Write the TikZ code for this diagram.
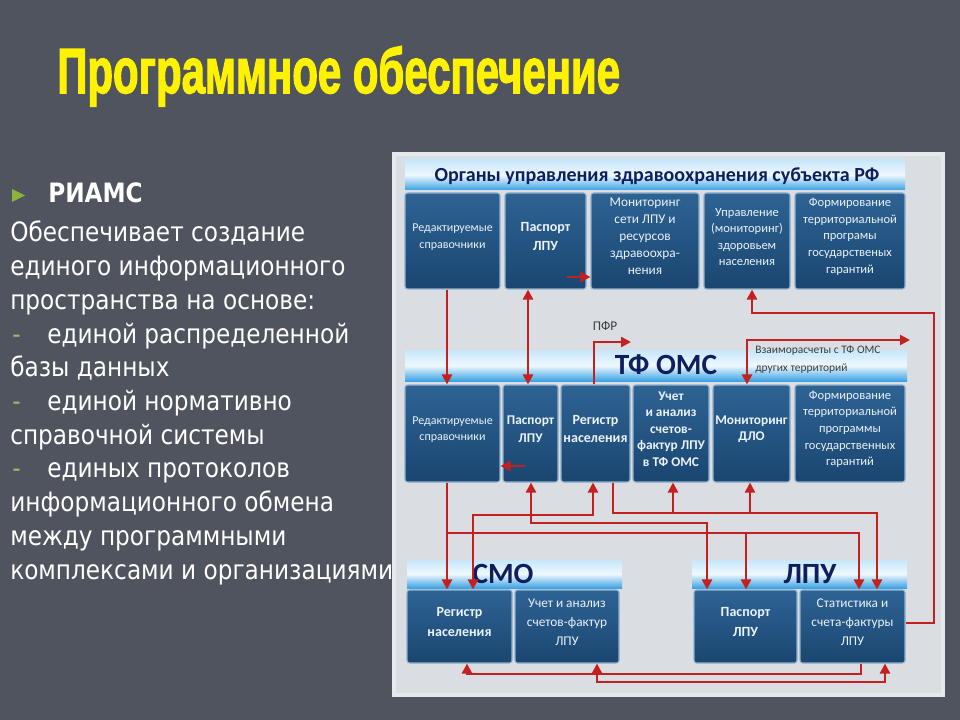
\documentclass[tikz,border=0pt]{standalone}
\usepackage{fontspec}
\usepackage{graphicx}
\setmainfont{DejaVu Sans}
\newfontfamily\leftfont[FakeStretch=0.87]{DejaVu Sans}
\newfontfamily\titlefont[BoldFeatures={FakeBold=2.5}]{Liberation Sans}
\newfontfamily\boxfont{Carlito}
\usetikzlibrary{fit,arrows.meta}
\definecolor{slidebg}{HTML}{50545F}
\definecolor{panel}{HTML}{DADDE1}
\definecolor{panelframe}{HTML}{E6E9EC}
\definecolor{boxtop}{HTML}{2E6394}
\definecolor{boxbot}{HTML}{1A4670}
\definecolor{boxedge}{HTML}{8FB0CC}
\definecolor{bartop}{HTML}{C6E7F9}
\definecolor{barmid}{HTML}{EEF8FE}
\definecolor{barbot}{HTML}{3BA3E3}
\definecolor{navy}{HTML}{0F1F5E}
\definecolor{arrred}{HTML}{C4201F}
\definecolor{bulletc}{HTML}{8CB33C}
\definecolor{dashc}{HTML}{9DB86A}
\definecolor{boxtext}{HTML}{EAF2F9}
\definecolor{smalltext}{HTML}{3C3C3C}
\newcommand\dsh[1]{\makebox[27.75pt][l]{\hspace{1.5pt}\textcolor{dashc}{-}}#1}
\tikzset{
  pbox/.style={rounded corners=2pt, draw=boxedge, line width=0.8pt, top color=boxtop, bottom color=boxbot, inner sep=0pt, align=center, text=boxtext},
  hbar/.style={draw=none, top color=bartop, bottom color=barbot, middle color=barmid, inner sep=0pt},
  fa/.style={font=\boxfont\fontsize{9}{12.4}\selectfont},
  fb/.style={font=\boxfont\bfseries\fontsize{10.5}{14}\selectfont},
  fc/.style={font=\boxfont\fontsize{10}{12.75}\selectfont},
  fd/.style={font=\boxfont\fontsize{9.4}{12.4}\selectfont},
  fe/.style={font=\boxfont\bfseries\fontsize{10.5}{14.5}\selectfont},
  ff/.style={font=\boxfont\fontsize{10}{14}\selectfont},
  bartext/.style={text=navy, inner sep=0pt, font=\boxfont\bfseries\fontsize{22}{24}\selectfont},
  lt/.style={anchor=base west, inner sep=0pt, text=white, font=\leftfont\fontsize{20}{24}\selectfont},
  arr/.style={draw=arrred, line width=1.8pt, -{Triangle[length=7.5pt,width=7.5pt]}},
  twoway/.style={arr, {Triangle[length=7.5pt,width=7.5pt]}-{Triangle[length=7.5pt,width=7.5pt]}}
}
\begin{document}
\begin{tikzpicture}[x=0.75pt,y=-0.75pt]
\useasboundingbox (0,0) rectangle (960,720);
\fill[slidebg] (0,0) rectangle (960,720);
% title
\node[anchor=base west, inner sep=0pt, text=yellow] (title) at (57,93)
  {\resizebox{422pt}{35pt}{\titlefont\bfseries Программное обеспечение}};
% left text
\fill[bulletc] (12,189) -- (25,195.5) -- (12,202) -- cycle;
\node[lt, font=\leftfont\bfseries\fontsize{20}{24}\selectfont] (riams) at (48,203) {РИАМС};
\foreach \t [count=\i] in {Обеспечивает создание, единого информационного, пространства на основе:,
  \dsh{единой распределенной}, базы данных, \dsh{единой нормативно}, справочной системы,
  \dsh{единых протоколов}, информационного обмена, между программными, комплексами и организациями}
  \node[lt] (L\i) at (10,{242+(\i-1)*33.7}) {\t};
% panel
\fill[panelframe] (392,152) rectangle (945,697);
\fill[panel] (396,156) rectangle (941,693);
% header bars
\node[hbar, fit={(405,160) (905,190)}] (bar1) {};
\node[bartext, font=\boxfont\bfseries\fontsize{15}{18}\selectfont] (bar1t) at (657,176) {Органы управления здравоохранения субъекта РФ};
\node[hbar, fit={(405,350) (907,381)}] (bar2) {};
\node[bartext] (bar2t) at (666,365) {ТФ ОМС};
\node[anchor=north west, inner sep=0pt, align=left, text=smalltext, font=\boxfont\fontsize{8.6}{13}\selectfont] (bar2s) at (755,346) {Взаиморасчеты с ТФ ОМС\\других территорий};
\node[hbar, fit={(407,560) (622,588)}] (bar3) {};
\node[bartext] (bar3t) at (503,574) {СМО};
\node[hbar, fit={(692,560) (907,588)}] (bar4) {};
\node[bartext] (bar4t) at (810,574) {ЛПУ};
% row 1
\node[pbox, fa, fit={(405,193) (500,289)}] (b11) {Редактируемые\\справочники};
\node[pbox, fb, fit={(505,193) (586,289)}] (b12) {Паспорт\\ЛПУ};
\node[pbox, fc, fit={(591,193) (699,289)}] (b13) {Мониторинг\\сети ЛПУ и\\ресурсов\\здравоохра-\\нения};
\node[pbox, fd, fit={(704,193) (790,289)}] (b14) {Управление\\(мониторинг)\\здоровьем\\населения};
\node[pbox, fd, fit={(795,193) (905,289)}] (b15) {Формирование\\территориальной\\програмы\\государственых\\гарантий};
% row 2
\node[pbox, fa, fit={(405,385) (500,482)}] (b21) {Редактируемые\\справочники};
\node[pbox, fb, font=\boxfont\bfseries\fontsize{10}{14}\selectfont, fit={(503,385) (558,482)}] (b22) {Паспорт\\ЛПУ};
\node[pbox, fb, fit={(561,385) (630,482)}] (b23) {Регистр\\населения};
\node[pbox, font=\boxfont\bfseries\fontsize{10}{12.4}\selectfont, fit={(633,385) (709,482)}] (b24) {Учет\\и анализ\\счетов-\\фактур ЛПУ\\в ТФ ОМС};
\node[pbox, fb, font=\boxfont\bfseries\fontsize{10}{12}\selectfont, fit={(713,385) (790,482)}] (b25) {Мониторинг\\ДЛО};
\node[pbox, fd, fit={(795,385) (905,482)}] (b26) {Формирование\\территориальной\\программы\\государственных\\гарантий};
% row 3
\node[pbox, fe, fit={(407,590) (512,663)}] (b31) {Регистр\\населения};
\node[pbox, ff, fit={(515,590) (619,663)}] (b32) {Учет и анализ\\счетов-фактур\\ЛПУ};
\node[pbox, fe, fit={(694,590) (797,663)}] (b41) {Паспорт\\ЛПУ};
\node[pbox, ff, fit={(800,590) (905,663)}] (b42) {Статистика и\\счета-фактуры\\ЛПУ};
% helper coordinates
\foreach \x in {447,467,473,528,531,593,594,597,613,673,707,746,747,750,752,859,861,877,885,934}
  \coordinate (X\x) at (\x,0);
\foreach \y in {277,313,466,513,515,523,533,623,674,682}
  \coordinate (Y\y) at (0,\y);
\coordinate (c3s) at (567,277);
\coordinate (c7s) at (525,466);
\coordinate (pfr) at (631,342);
\coordinate (oth) at (910,340);
% labels
\node[text=smalltext, inner sep=0pt, font=\boxfont\fontsize{10}{12}\selectfont] (pfrt) at (605,326) {ПФР};
% connectors, upper part
\draw[arr] (b11.south -| X447) -- (b21.north -| X447);
\draw[twoway] (b12.south -| X528) -- (b22.north -| X528);
\draw[arr] (c3s) -- (b13.west |- c3s);
\draw[arr] (b23.north -| X594) |- (pfr);
\draw[arr] (b42.east |- Y623) -| (X934 |- Y313) -| (b14.south -| X752);
\draw[twoway] (oth) -| (b25.north -| X747);
\draw[arr] (c7s) -- (b21.east |- c7s);
% connectors, lower part
\draw[arr] (b21.south -| X447) -- (b31.north -| X447);
\draw[arr] (X447 |- Y533) -| (b42.north -| X859);
\draw[arr] (X746 |- Y533) -- (b41.north -| X746);
\draw[twoway] (b23.south -| X593) |- (X473 |- Y515) -- (b31.north -| X473);
\draw[twoway] (b22.south -| X531) |- (X707 |- Y523) -- (b41.north -| X707);
\draw[arr] (b23.south -| X613) |- (X877 |- Y513) -- (b42.north -| X877);
\draw[arr] (X673 |- Y513) -- (b24.south -| X673);
\draw[arr] (X750 |- Y513) -- (b25.south -| X750);
\draw[arr] (b42.south -| X861) |- (X467 |- Y674) -- (b31.south -| X467);
\draw[twoway] (b32.south -| X597) |- (X885 |- Y682) -- (b42.south -| X885);
\end{tikzpicture}
\end{document}
